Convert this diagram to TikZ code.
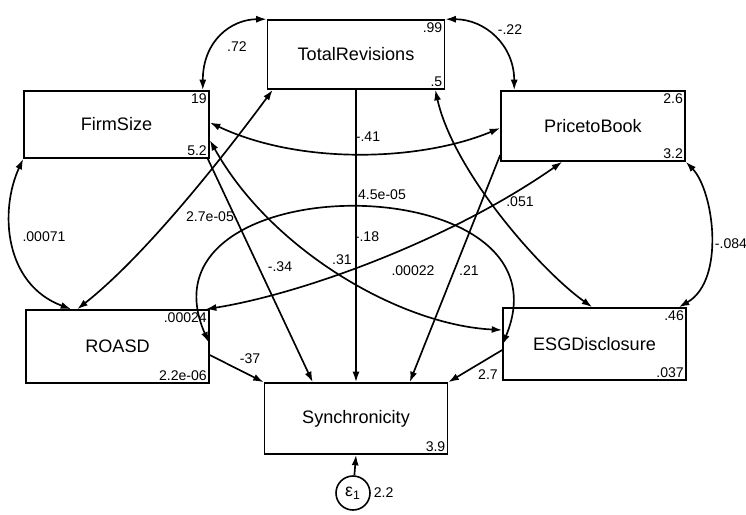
\documentclass[tikz,border=0pt]{standalone}
\usepackage{fontspec}
\setmainfont{Liberation Sans}
\usetikzlibrary{arrows.meta,calc}
\begin{document}
\begin{tikzpicture}[x=0.02cm,y=-0.02cm,
  >={Latex[length=6pt,width=4pt]},
  box/.style 2 args={draw,line width=0.9pt,inner sep=0pt,
    minimum width=#1*0.02cm,minimum height=#2*0.02cm,
    font=\fontsize{10.3}{12}\selectfont},
  corner/.style={font=\fontsize{8}{9}\selectfont,inner sep=1.5pt},
  lab/.style={font=\fontsize{8}{9}\selectfont,inner sep=0.5pt},
  cov/.style={<->,line width=0.95pt},
  reg/.style={->,line width=0.95pt}]
\fill[white] (0,0) rectangle (746,514);
\useasboundingbox (0,0) rectangle (746,514);

% boxes
\node[box={185}{67}] (fs) at (116.5,124.5) {FirmSize};
\node[box={177}{69}] (tr) at (356,54.5) {TotalRevisions};
\node[box={184}{70}] (pb) at (593,126) {PricetoBook};
\node[box={183}{73}] (ro) at (117.5,346.5) {ROASD};
\node[box={183}{72}] (esg) at (594.5,344) {ESGDisclosure};
\node[box={183}{71}] (sy) at (356,418.5) {Synchronicity};
\node[draw,circle,line width=0.9pt,minimum size=34*0.02cm,inner sep=0pt,
  font=\fontsize{10}{12}\selectfont] (e1) at (353,493) {ε\textsubscript{1}};

% corner numbers
\node[corner,anchor=north east] (c1) at (tr.north east) {.99};
\node[corner,anchor=south east] (c2) at (tr.south east) {.5};
\node[corner,anchor=north east] (c3) at (fs.north east) {19};
\node[corner,anchor=south east] (c4) at (fs.south east) {5.2};
\node[corner,anchor=north east] (c5) at (pb.north east) {2.6};
\node[corner,anchor=south east] (c6) at (pb.south east) {3.2};
\node[corner,anchor=north east] (c7) at (ro.north east) {.00024};
\node[corner,anchor=south east] (c8) at (ro.south east) {2.2e-06};
\node[corner,anchor=north east] (c9) at (esg.north east) {.46};
\node[corner,anchor=south east] (c10) at (esg.south east) {.037};
\node[corner,anchor=south east] (c11) at (sy.south east) {3.9};
\node[corner,anchor=west] (c12) at (e1.east) {2.2};

% covariances
\draw[cov] ($(fs.north east)+(-7,0)$) .. controls +(0,-50) and +(-35,0) .. (tr.north west);
\draw[cov] (tr.north east) .. controls +(40,0) and +(0,-45) .. ($(pb.north west)+(14,0)$);
\draw[cov] (fs.south west) .. controls +(-24,52) and +(-67,-25) .. ($(ro.north west)+(46,0)$);
\draw[cov] ($(ro.north west)+(52,0)$) .. controls +(70,-55) and +(-45,61) .. ($(tr.south west)+(6,0)$);
\draw[cov] (pb.south east) .. controls +(28,29) and +(47,-27) .. ($(esg.north east)+(-8,0)$);
\draw[cov] ($(fs.east)+(0,-2)$) .. controls +(91,43) and +(-79,33) .. ($(pb.west)+(0,2)$);
\draw[cov] ($(ro.east)+(-1,-4)$) .. controls +(-79,-180) and +(76,-182) .. ($(esg.west)+(0,1)$);
\draw[cov] ($(ro.north east)+(-4,0)$) .. controls +(95,-15) and +(-113,79) .. ($(pb.south west)+(62,0)$);
\draw[cov] ($(tr.south east)+(-10,0)$) .. controls +(18,81) and +(-53,-38) .. ($(esg.north west)+(90,0)$);
\draw[cov] ($(fs.east)+(0,15.5)$) .. controls +(61,110) and +(-102,-5) .. ($(esg.west)+(0,-14)$);

% regressions
\draw[reg] ($(fs.south east)+(-2,0)$) -- ($(sy.north west)+(49,0)$);
\draw[reg] (tr.south) -- (sy.north);
\draw[reg] ($(pb.west)+(0,29)$) -- ($(sy.north west)+(146,0)$);
\draw[reg] ($(ro.east)+(0,8.5)$) -- (sy.north west);
\draw[reg] ($(esg.west)+(0,6)$) -- (sy.north east);
\draw[reg] (e1) -- (sy.south);

% labels
\node[lab] (l1) at (237,47) {.72};
\node[lab] (l2) at (510,30) {-.22};
\node[lab] (l3) at (44,237) {.00071};
\node[lab] (l4) at (731,244) {-.084};
\node[lab] (l5) at (368,137) {-.41};
\node[lab] (l6) at (382,195) {4.5e-05};
\node[lab] (l7) at (210,217) {2.7e-05};
\node[lab] (l8) at (280,267) {-.34};
\node[lab] (l9) at (367,237) {-.18};
\node[lab] (l10) at (342,260) {.31};
\node[lab] (l11) at (413,271) {.00022};
\node[lab] (l12) at (469,271) {.21};
\node[lab] (l13) at (520,202) {.051};
\node[lab] (l14) at (250,359) {-37};
\node[lab] (l15) at (488,375) {2.7};
\end{tikzpicture}
\end{document}
